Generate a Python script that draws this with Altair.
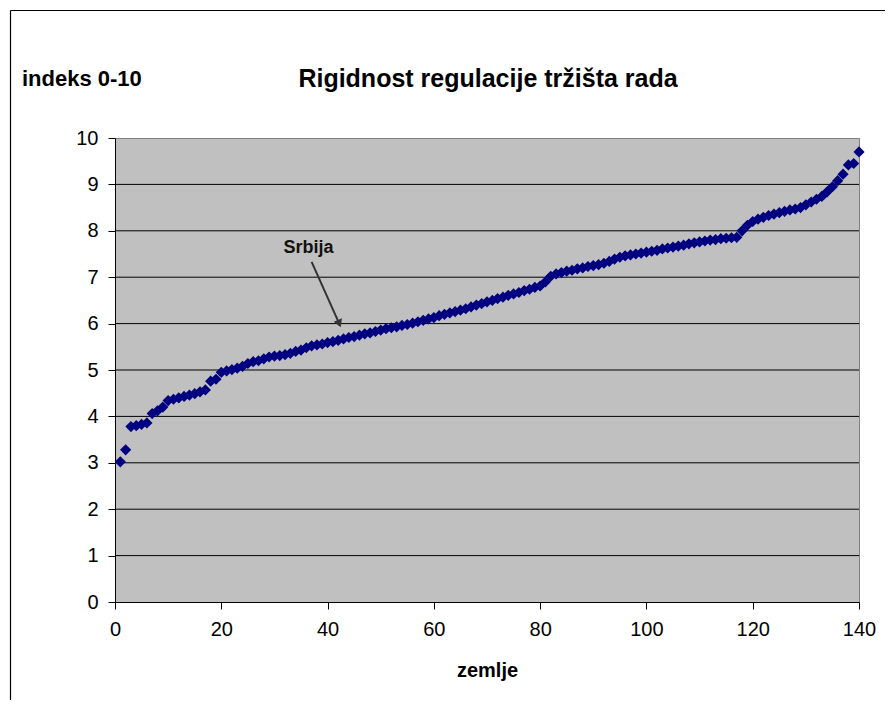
import altair as alt
import pandas as pd

# ---- data ----
countries = list(range(1, 141))
index_values = [
    3.02, 3.28, 3.78, 3.80, 3.83, 3.86, 4.06, 4.12, 4.20, 4.34,
    4.37, 4.40, 4.43, 4.46, 4.49, 4.53, 4.57, 4.76, 4.80, 4.95,
    4.98, 5.01, 5.04, 5.08, 5.14, 5.18, 5.20, 5.24, 5.28, 5.30,
    5.31, 5.33, 5.36, 5.40, 5.43, 5.48, 5.52, 5.54, 5.56, 5.59,
    5.61, 5.64, 5.67, 5.70, 5.72, 5.75, 5.78, 5.80, 5.83, 5.86,
    5.89, 5.91, 5.93, 5.96, 5.98, 6.01, 6.04, 6.07, 6.10, 6.13,
    6.17, 6.20, 6.23, 6.26, 6.29, 6.32, 6.36, 6.40, 6.43, 6.47,
    6.50, 6.54, 6.57, 6.61, 6.64, 6.67, 6.71, 6.74, 6.78, 6.81,
    6.90, 7.02, 7.07, 7.10, 7.13, 7.15, 7.18, 7.20, 7.23, 7.25,
    7.27, 7.30, 7.34, 7.39, 7.43, 7.46, 7.48, 7.50, 7.52, 7.54,
    7.56, 7.58, 7.61, 7.63, 7.65, 7.67, 7.69, 7.72, 7.74, 7.76,
    7.78, 7.80, 7.81, 7.83, 7.84, 7.85, 7.86, 8.00, 8.12, 8.20,
    8.25, 8.29, 8.33, 8.36, 8.39, 8.42, 8.45, 8.47, 8.50, 8.56,
    8.62, 8.68, 8.74, 8.84, 8.95, 9.08, 9.22, 9.42, 9.45, 9.70,
]
x_ticks = [0, 20, 40, 60, 80, 100, 120, 140]
y_ticks = [0, 1, 2, 3, 4, 5, 6, 7, 8, 9, 10]
grid_levels = [1, 2, 3, 4, 5, 6, 7, 8, 9]

title_text = "Rigidnost regulacije tržišta rada"
y_label_text = "indeks 0-10"
x_label_text = "zemlje"

note_text = ["Srbija"]
note_x = [36.4]
note_y = [7.64]
arrow_x = [37.0]
arrow_y = [7.33]
arrow_x2 = [42.2]
arrow_y2 = [6.00]

FONT = "Liberation Sans"

df = pd.DataFrame({"zemlja": countries, "indeks": index_values})
grid_df = pd.DataFrame({"g": grid_levels})
note_df = pd.DataFrame({"x": note_x, "y": note_y, "t": note_text})
arrow_df = pd.DataFrame({"x": arrow_x, "y": arrow_y, "x2": arrow_x2, "y2": arrow_y2})
label_df = pd.DataFrame({"t": [y_label_text]})
title_df = pd.DataFrame({"t": [title_text]})

xscale = alt.Scale(domain=[0, 140], nice=False, zero=False)
yscale = alt.Scale(domain=[0, 10], nice=False)

x_axis = alt.Axis(values=x_ticks, title=x_label_text, grid=False, format="d",
                  titleY=68, titleBaseline="middle", labelFlush=False)
y_axis = alt.Axis(values=y_ticks, title=None, grid=False, format="d", labelFlush=False)

grid = alt.Chart(grid_df).mark_rule(color="black", strokeWidth=1).encode(
    y=alt.Y("g:Q", scale=yscale, axis=y_axis)
)

points = alt.Chart(df).mark_point(
    shape="diamond", filled=True, size=125, color="#000080", opacity=1
).encode(
    x=alt.X("zemlja:Q", scale=xscale, axis=x_axis),
    y=alt.Y("indeks:Q", scale=yscale, axis=y_axis),
)

arrow_line = alt.Chart(arrow_df).mark_rule(color="#333333", strokeWidth=2).encode(
    x=alt.X("x:Q", scale=xscale), y=alt.Y("y:Q", scale=yscale),
    x2="x2:Q", y2="y2:Q",
)
arrow_head = alt.Chart(arrow_df).mark_point(
    shape="triangle-down", filled=True, size=80, color="#333333", angle=338, opacity=1
).encode(
    x=alt.X("x2:Q", scale=xscale), y=alt.Y("y2:Q", scale=yscale)
)

note = alt.Chart(note_df).mark_text(
    font=FONT, fontSize=18, fontWeight="bold", color="#111111", align="center", baseline="middle"
).encode(
    x=alt.X("x:Q", scale=xscale), y=alt.Y("y:Q", scale=yscale), text="t:N"
)

y_label = alt.Chart(label_df).mark_text(
    font=FONT, fontSize=22, fontWeight="bold", color="black", align="left", baseline="middle"
).encode(
    x=alt.value(-93), y=alt.value(-59), text="t:N"
)

title = alt.Chart(title_df).mark_text(
    font=FONT, fontSize=25, fontWeight="bold", color="black", align="center", baseline="middle"
).encode(
    x=alt.value(373), y=alt.value(-59), text="t:N"
)

frame_left = alt.Chart(label_df).mark_rule(color="black", strokeWidth=1.2).encode(
    x=alt.value(-104.5), y=alt.value(-127.5), y2=alt.value(600)
)
frame_top = alt.Chart(label_df).mark_rule(color="black", strokeWidth=1.2).encode(
    x=alt.value(-104.5), x2=alt.value(800), y=alt.value(-127.5)
)

chart = alt.layer(
    grid, points, arrow_line, arrow_head, note, y_label, title, frame_left, frame_top
).properties(
    width=744,
    height=464,
    autosize=alt.AutoSizeParams(type="none"),
    padding={"left": 107, "top": 130, "right": 26, "bottom": 98},
    background="white",
).configure_view(
    fill="#C0C0C0", stroke="#808080", strokeWidth=1
).configure_axis(
    labelFont=FONT, labelFontSize=20, labelColor="black",
    titleFont=FONT, titleFontSize=20, titleFontWeight="bold", titleColor="black",
    domainColor="black", domainWidth=1, tickColor="black", tickSize=7, tickWidth=1,
    labelPadding=10,
)

chart.save("out.html", embed_options={"renderer": "svg", "actions": False})
